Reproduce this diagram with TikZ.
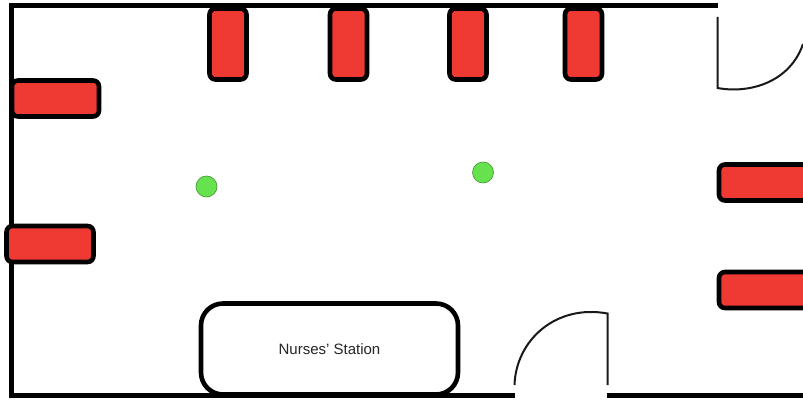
\documentclass[tikz,border=0pt]{standalone}
\usepackage{fontspec}
\setmainfont{Liberation Sans}
\definecolor{bedred}{HTML}{EE3A32}
\definecolor{dotgreen}{HTML}{66E24E}
\tikzset{
  wall/.style={line width=4.8pt,black},
  door/.style={line width=2pt,black!90},
  bedbox/.style={draw=black,fill=bedred,line width=4.6pt,rounded corners=6pt,inner sep=0pt},
  upright/.style={bedbox,minimum width=37pt,minimum height=71pt},
  flat/.style={bedbox,minimum width=87pt,minimum height=36pt},
  patient/.style={circle,draw=black!35!dotgreen,fill=dotgreen,line width=.6pt,minimum size=21pt,inner sep=0pt},
  station/.style={draw=black,fill=white,line width=4.6pt,rounded corners=22pt,inner sep=0pt,minimum width=257pt,minimum height=91pt,font=\fontsize{15pt}{17pt}\selectfont,text=black!85}
}
\begin{document}
\begin{tikzpicture}[x=1pt,y=-1pt]
\useasboundingbox (0,0) rectangle (803,401);
\fill[white] (0,0) rectangle (803,401);
% walls
\draw[wall,line cap=butt,line join=miter] (718,5.5) -- (11.5,5.5) -- (11.5,395.5) -- (515,395.5);
\draw[wall] (607,395.5) -- (803,395.5);
% doors
\draw[door] (717.5,17) -- (717.5,88) .. controls (750,94) and (790,82) .. (803,44);
\draw[door] (514.5,385) .. controls (516,340) and (556,304) .. (607.5,313.5) -- (607.5,385);
% station
\node[station] (st) at (329.5,349) {Nurses' Station};
% beds
\node[upright] (b1) at (228,44) {};
\node[upright] (b2) at (348.5,44) {};
\node[upright] (b3) at (468,44) {};
\node[upright] (b4) at (583.5,44) {};
\node[flat] (b5) at (55.5,98.5) {};
\node[flat] (b6) at (50,244) {};
\node[bedbox,minimum width=90pt,minimum height=36pt] (b7) at (764,182.5) {};
\node[bedbox,minimum width=90pt,minimum height=36pt] (b8) at (764,290) {};
% patients
\node[patient] (p1) at (206.5,186.5) {};
\node[patient] (p2) at (483,172.5) {};
\end{tikzpicture}
\end{document}
